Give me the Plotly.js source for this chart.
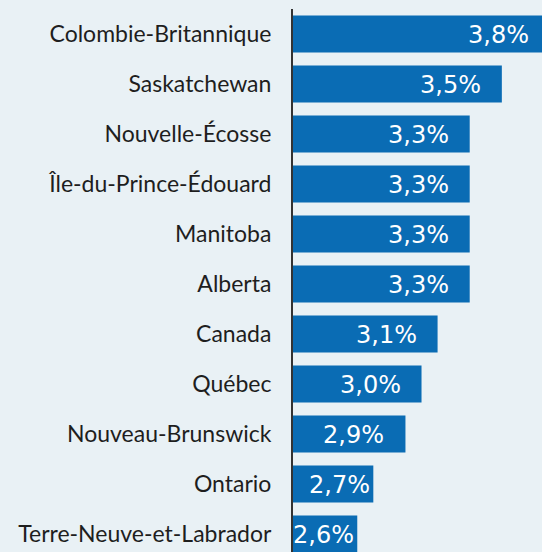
<!DOCTYPE html>
<html>
<head>
<meta charset="utf-8">
<script src="https://cdn.plot.ly/plotly-3.0.1.min.js"></script>
<style>html,body{margin:0;padding:0;background:#e9f1f5;}#chart{width:542px;height:552px;}</style>
</head>
<body>
<div id="chart"></div>
<script>
const provinces = ["Colombie-Britannique","Saskatchewan","Nouvelle-Écosse","Île-du-Prince-Édouard","Manitoba","Alberta","Canada","Québec","Nouveau-Brunswick","Ontario","Terre-Neuve-et-Labrador"];
const growth = [3.8,3.5,3.3,3.3,3.3,3.3,3.1,3.0,2.9,2.7,2.6];
const valueLabels = ["3,8%","3,5%","3,3%","3,3%","3,3%","3,3%","3,1%","3,0%","2,9%","2,7%","2,6%"];

const xmin = 2.2, xmax = 3.75;
const plotW = 542 - 293;
const pxPerUnit = plotW / (xmax - xmin);

const annotations = growth.map((v, i) => {
  const xa = Math.min(v, xmax - 0.001);
  const pad = ((v - xmin) * pxPerUnit > 100) ? 19 : 1;
  return {
    x: xa, y: provinces[i], xref: 'x', yref: 'y',
    text: valueLabels[i], showarrow: false, xanchor: 'right', yanchor: 'middle',
    xshift: -pad + (v - xa) * pxPerUnit, yshift: -1,
    font: {family: 'DejaVu Sans', size: 24, color: '#ffffff'}
  };
});

Plotly.newPlot('chart', [{
  type: 'bar', orientation: 'h',
  x: growth, y: provinces,
  marker: {color: '#0a6cb4'},
  hoverinfo: 'none'
}], {
  width: 542, height: 552,
  paper_bgcolor: '#e9f1f5', plot_bgcolor: '#e9f1f5',
  margin: {l: 293, r: 0, t: 9, b: 0},
  bargap: 0.26,
  showlegend: false,
  xaxis: {range: [xmin, xmax], visible: false, fixedrange: true},
  yaxis: {
    type: 'category', range: [10.36, -0.5], autorange: false,
    showline: true, linecolor: '#333333', linewidth: 2,
    showgrid: false, zeroline: false,
    ticks: 'outside', ticklen: 0, ticklabelstandoff: 15,
    tickfont: {family: 'Lato', size: 23, color: '#1e1e1e'}
  },
  annotations: annotations
}, {displayModeBar: false, staticPlot: true});
</script>
</body>
</html>
